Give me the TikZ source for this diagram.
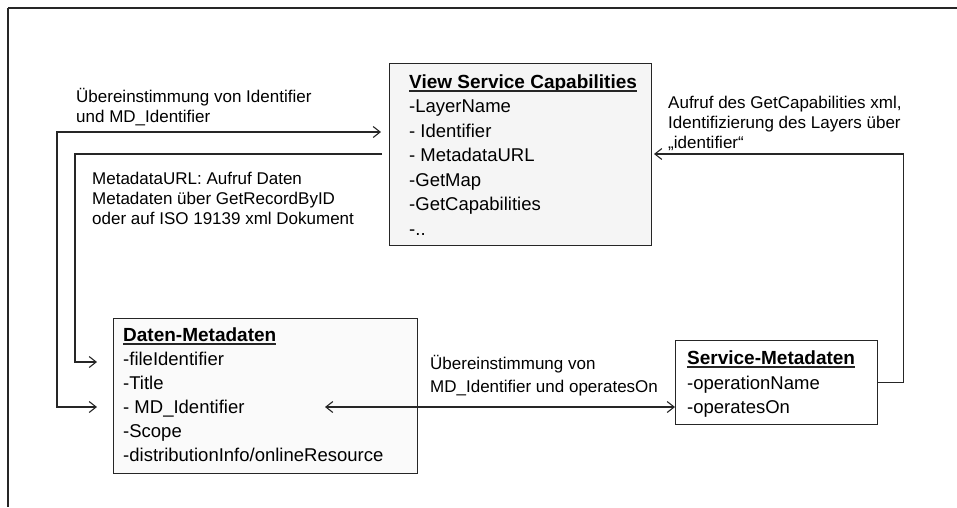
\documentclass[tikz,border=0pt]{standalone}
\usepackage{fontspec}
\setmainfont{Liberation Sans}
\usetikzlibrary{arrows.meta}
\begin{document}
\begin{tikzpicture}[x=1pt,y=-1pt,
  umlbox/.style={draw=black!85, line width=1.3pt, inner sep=0pt, anchor=north west},
  boxtxt/.style={anchor=base west, inner sep=0pt, font=\fontsize{18.5}{22}\selectfont},
  boxttl/.style={anchor=base west, inner sep=0pt, font=\fontsize{19}{22}\selectfont\bfseries},
  lbl/.style={anchor=base west, inner sep=0pt, font=\fontsize{17}{20}\selectfont},
  conn/.style={line width=1.3pt, draw=black!85},
  ul/.style={line width=1.2pt, draw=black!85},
  >={Straight Barb[length=7pt,width=11pt,line width=1.1pt]}]
\useasboundingbox (0,0) rectangle (957,507);
% frame
\draw[line width=2pt, black!85] (8,8) -- (957,8);
\draw[line width=1.5pt, black!85] (8,8) -- (8,507);
% boxes
\node[umlbox, fill=gray!8, minimum width=262pt, minimum height=182pt] (vsc) at (389,63) {};
\node[umlbox, fill=gray!4, minimum width=304pt, minimum height=155pt] (dmd) at (113,318) {};
\node[umlbox, fill=white, minimum width=202pt, minimum height=84pt] (svc) at (675,340) {};
% View Service Capabilities
\node[boxttl] (vsct) at (409,88) {View Service Capabilities};
\draw[ul] ([yshift=-3pt]vsct.base west) -- ([yshift=-3pt]vsct.base east);
\foreach \t [count=\i] in {-LayerName,- Identifier,- MetadataURL,-GetMap,-GetCapabilities,-..}
  \node[boxtxt] (vsc\i) at (409,{88+24.5*\i}) {\t};
% Daten-Metadaten
\node[boxttl] (dmdt) at (123,341) {Daten-Metadaten};
\draw[ul] ([yshift=-3pt]dmdt.base west) -- ([yshift=-3pt]dmdt.base east);
\foreach \t [count=\i] in {-fileIdentifier,-Title,- MD\_Identifier,-Scope,-distributionInfo/onlineResource}
  \node[boxtxt] (dmd\i) at (123,{341+24*\i}) {\t};
% Service-Metadaten
\node[boxttl] (svct) at (687,364) {Service-Metadaten};
\draw[ul] ([yshift=-3pt]svct.base west) -- ([yshift=-3pt]svct.base east);
\node[boxtxt] (svc1) at (687,389) {-operationName};
\node[boxtxt] (svc2) at (687,413) {-operatesOn};
% labels
\node[lbl] (l1a) at (76,102) {Übereinstimmung von Identifier};
\node[lbl] (l1b) at (76,122) {und MD\_Identifier};
\node[lbl] (l2a) at (92,184) {MetadataURL: Aufruf Daten};
\node[lbl] (l2b) at (92,204) {Metadaten über GetRecordByID};
\node[lbl] (l2c) at (92,224) {oder auf ISO 19139 xml Dokument};
\node[lbl] (l3a) at (668,108) {Aufruf des GetCapabilities xml,};
\node[lbl] (l3b) at (668,128) {Identifizierung des Layers über};
\node[lbl] (l3c) at (668,148) {„identifier“};
\node[lbl] (l4a) at (430,369) {Übereinstimmung von};
\node[lbl] (l4b) at (430,392) {MD\_Identifier und operatesOn};
% connectors
\coordinate (a1) at (381,132);
\coordinate (a2) at (97,407);
\draw[conn,<->] (a2) -- ++(-40,0) |- (a1);
\coordinate (b1) at (382,154);
\coordinate (b2) at (97,362);
\draw[conn,->] (b1) -- ++(-307,0) |- (b2);
\coordinate (c1) at (654,154);
\draw[conn,->] (svc.east) -- ++(25,0) |- (c1);
\coordinate (d1) at (325,407);
\draw[conn,<->] (d1) -- (svc.west |- d1);
\end{tikzpicture}
\end{document}
